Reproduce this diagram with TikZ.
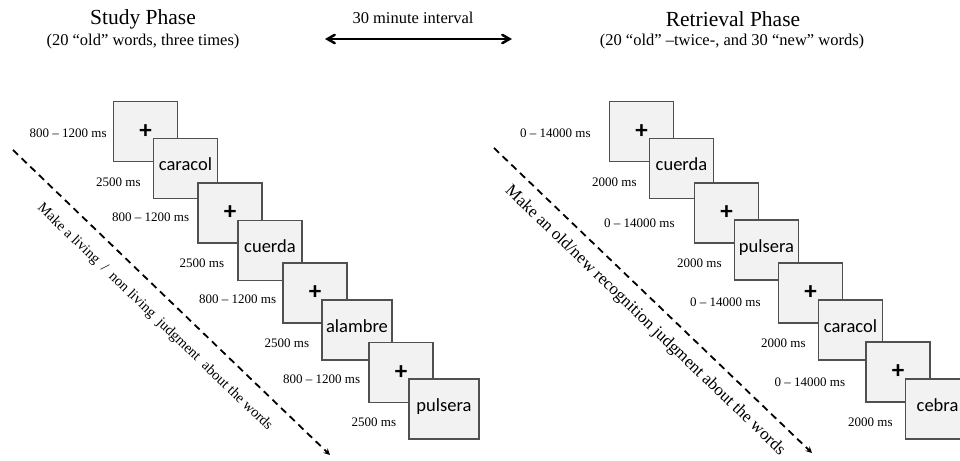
\documentclass[tikz,border=0pt]{standalone}
\usepackage{fontspec}
\setmainfont{Liberation Serif}
\newfontfamily\wordfont{Carlito}
\usepackage{tikz}
\usetikzlibrary{arrows, positioning}
\definecolor{screenfill}{RGB}{242,242,242}
\definecolor{screenline}{RGB}{80,80,80}
\tikzstyle{screen} = [rectangle, minimum width=64pt, minimum height=60pt, inner sep=4pt, text height=0.62em, text depth=0.15em, draw=screenline, fill=screenfill, line width=1.3pt, font=\wordfont\fontsize{18.5}{20}\selectfont]
\tikzstyle{fixation} = [screen, text height=, text depth=, font=\wordfont\bfseries\fontsize{25}{28}\selectfont]
\tikzstyle{timing} = [inner sep=0pt, font=\fontsize{13}{15}\selectfont]
\tikzstyle{phase} = [font=\fontsize{21.5}{24}\selectfont]
\tikzstyle{subphase} = [font=\fontsize{16.5}{19}\selectfont]
\tikzstyle{dasharrow} = [line width=1.8pt, dash pattern=on 7pt off 5pt, ->, >=stealth]
\tikzstyle{interval} = [line width=2.5pt, <->, >=angle 60]

\begin{document}
\begin{tikzpicture}[x=1pt, y=-1pt, node distance=1cm]
        \clip (0,0) rectangle (960,460);
        \node (study) [phase] at (143,19) {Study Phase};
        \node (studysub) [subphase] at (143,42) {(20 “old” words, three times)};
        \node (delay) [subphase] at (413,18) {30 minute interval};
        \node (retrieval) [phase] at (733,19) {Retrieval Phase};
        \node (retrievalsub) [subphase] at (732,42) {(20 “old” –twice-, and 30 “new” words)};
        \coordinate (delayleft) at (325,39);
        \coordinate (delayright) at (512,39);
        \draw [interval] (delayleft) -- (delayright);

        \node (s1) [fixation] at (145.5,131.5) {+};
        \node (s2) [screen] at (185.5,168.5) {caracol};
        \node (s3) [fixation] at (230,213) {+};
        \node (s4) [screen] at (270,250.5) {cuerda};
        \node (s5) [fixation] at (315,293) {+};
        \node (s6) [screen, minimum width=70pt] at (357,330) {alambre};
        \node (s7) [fixation] at (401,372.5) {+};
        \node (s8) [screen, minimum width=70pt] at (444,409) {pulsera};

        \node (ts1) [timing, left=6pt of s1, yshift=-1.5pt] {800 \textendash{} 1200 ms};
        \node (ts2) [timing, left=12pt of s2, yshift=-13.5pt] {2500 ms};
        \node (ts3) [timing, left=8pt of s3, yshift=-4pt] {800 \textendash{} 1200 ms};
        \node (ts4) [timing, left=13pt of s4, yshift=-12.5pt] {2500 ms};
        \node (ts5) [timing, left=6pt of s5, yshift=-6pt] {800 \textendash{} 1200 ms};
        \node (ts6) [timing, left=12pt of s6, yshift=-13pt] {2500 ms};
        \node (ts7) [timing, left=8pt of s7, yshift=-6.5pt] {800 \textendash{} 1200 ms};
        \node (ts8) [timing, left=12pt of s8, yshift=-13pt] {2500 ms};

        \node (r1) [fixation] at (641.5,131.5) {+};
        \node (r2) [screen] at (681.5,168.5) {cuerda};
        \node (r3) [fixation] at (726.5,213) {+};
        \node (r4) [screen] at (766.5,250) {pulsera};
        \node (r5) [fixation] at (810.5,293) {+};
        \node (r6) [screen] at (850.5,330) {caracol};
        \node (r7) [fixation] at (898,372) {+};
        \node (r8) [screen] at (937.5,409) {cebra};

        \node (tr1) [timing, left=18pt of r1, yshift=-1.5pt] {0 \textendash{} 14000 ms};
        \node (tr2) [timing, left=12pt of r2, yshift=-13.5pt] {2000 ms};
        \node (tr3) [timing, left=19pt of r3, yshift=-10pt] {0 \textendash{} 14000 ms};
        \node (tr4) [timing, left=12pt of r4, yshift=-13pt] {2000 ms};
        \node (tr5) [timing, left=17pt of r5, yshift=-9pt] {0 \textendash{} 14000 ms};
        \node (tr6) [timing, left=12pt of r6, yshift=-13pt] {2000 ms};
        \node (tr7) [timing, left=20pt of r7, yshift=-10pt] {0 \textendash{} 14000 ms};
        \node (tr8) [timing, left=12pt of r8, yshift=-13pt] {2000 ms};

        \coordinate (studystart) at (13,150);
        \coordinate (studyend) at (330,455);
        \draw [dasharrow] (studystart) -- (studyend);
        \node (studytask) [rotate=-43.9, font=\fontsize{14.5}{17}\selectfont] at (154.8,317.3) {Make a living \ / \ non living \ judgment \ about the words};

        \coordinate (retrievalstart) at (494,148);
        \coordinate (retrievalend) at (812,453);
        \draw [dasharrow] (retrievalstart) -- (retrievalend);
        \node (retrievaltask) [rotate=-43.8, font=\fontsize{17}{19}\selectfont] at (645,320.8) {Make an old/new recognition judgment about the words};
\end{tikzpicture}
\end{document}
